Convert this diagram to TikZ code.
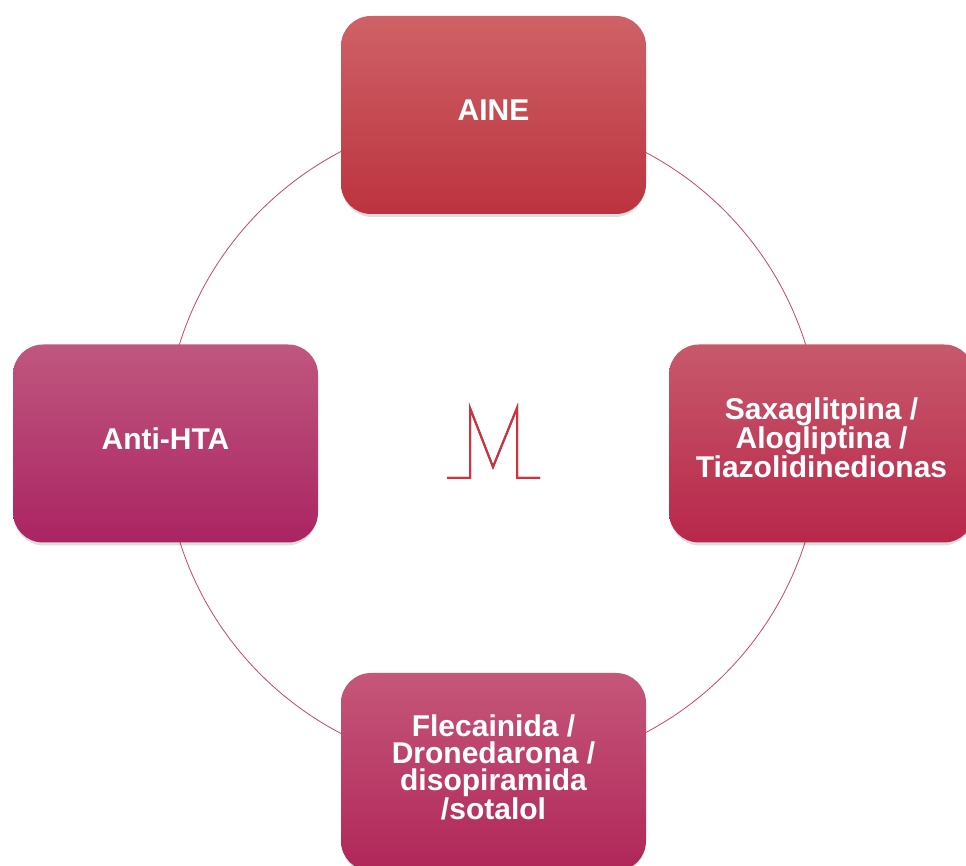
\documentclass[tikz,border=0pt]{standalone}
\usepackage{fontspec}
\setmainfont{Liberation Sans}
\definecolor{ringc}{HTML}{C94462}
\definecolor{aTop}{HTML}{CE6267}
\definecolor{aBot}{HTML}{BC333E}
\definecolor{sTop}{HTML}{C7596B}
\definecolor{sBot}{HTML}{B8274A}
\definecolor{fTop}{HTML}{C5577A}
\definecolor{fBot}{HTML}{B02658}
\definecolor{hTop}{HTML}{C0577F}
\definecolor{hBot}{HTML}{AA2462}
\definecolor{logoc}{HTML}{D4303E}
\begin{document}
\begin{tikzpicture}[x=1pt,y=1pt,
  card/.style={shade, rounded corners=30pt, minimum width=305pt, minimum height=198pt,
    inner sep=0pt},
  cardtext/.style={text=white, align=center, inner sep=0pt,
    font=\fontsize{30}{27}\selectfont\bfseries},
  cardshadow/.style={fill=black, opacity=0.13, rounded corners=30pt, minimum width=303pt, minimum height=198pt, draw=none}]
\useasboundingbox (0,0) rectangle (966,866);
% ring
\node[draw=ringc, line width=0.8pt, circle, minimum size=656pt, inner sep=0pt] (ring) at (492.5,423.5) {};
% shadows
\node[cardshadow] (sh1) at (493.5,748) {};
\node[cardshadow] (sh2) at (821.5,419.5) {};
\node[cardshadow] (sh3) at (493.5,91) {};
\node[cardshadow] (sh4) at (165.5,419.5) {};
% cards
\node[card, top color=aTop, bottom color=aBot] (aine) at (493.5,751) {};
\node[cardtext] (aineT) at (493.5,756) {AINE};
\node[card, top color=sTop, bottom color=sBot] (saxa) at (821.5,422.5) {};
\node[cardtext] (saxaT) at (821.5,428) {Saxaglitpina /\\Alogliptina /\\Tiazolidinedionas};
\node[card, top color=fTop, bottom color=fBot] (fleca) at (493.5,94) {};
\node[cardtext] (flecaT) at (493.5,99) {Flecainida /\\Dronedarona /\\disopiramida\\/sotalol};
\node[card, top color=hTop, bottom color=hBot] (hta) at (165.5,422.5) {};
\node[cardtext] (htaT) at (165.5,427) {Anti-HTA};
% logo
\coordinate (l1) at (447,388);
\coordinate (l2) at (470,388);
\coordinate (l3) at (470,458);
\coordinate (l4) at (493,399);
\coordinate (l5) at (517,458);
\coordinate (l6) at (517,388);
\coordinate (l7) at (540,388);
\draw[black!70, line width=2pt, line join=miter, xshift=0.8pt, yshift=-0.8pt] (l1) -- (l2) -- (l3) -- (l4) -- (l5) -- (l6) -- (l7);
\draw[logoc, line width=2pt, line join=miter] (l1) -- (l2) -- (l3) -- (l4) -- (l5) -- (l6) -- (l7);
\end{tikzpicture}
\end{document}
